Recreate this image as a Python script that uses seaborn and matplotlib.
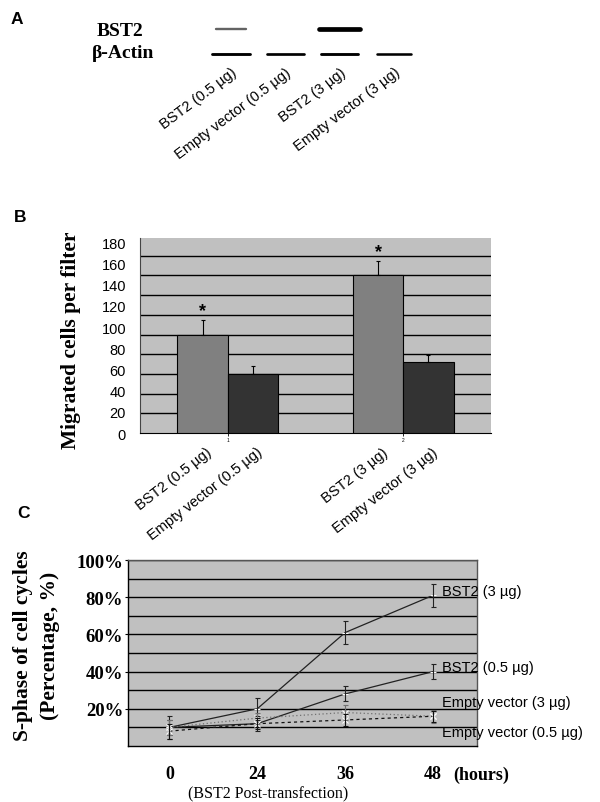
import numpy as np
import pandas as pd
import seaborn as sns
import matplotlib.pyplot as plt

plt.rcParams['font.family'] = ['Liberation Sans', 'DejaVu Sans']
SERIF = ['Liberation Serif', 'DejaVu Serif']

## Panel A: western blot lanes
lane_labels = ['BST2 (0.5 µg)', 'Empty vector (0.5 µg)', 'BST2 (3 µg)', 'Empty vector (3 µg)']
blot_rows = ['BST2', 'β-Actin']
bst2_band = [0.35, 0.0, 1.0, 0.0]     # relative intensity
actin_band = [0.8, 0.75, 0.8, 0.7]
band_width = [0.55, 0.0, 0.75, 0.0]
actin_width = [0.7, 0.68, 0.68, 0.62]

## Panel B: migration assay
groups = ['1', '2']
treatment = ['BST2', 'Empty vector', 'BST2', 'Empty vector']
group_of_bar = ['1', '1', '2', '2']
migrated = [100, 60, 160, 72]
migrated_err = [15, 8, 15, 7]
bar_labels = ['BST2 (0.5 µg)', 'Empty vector (0.5 µg)', 'BST2 (3 µg)', 'Empty vector (3 µg)']
count_ticks = [0, 20, 40, 60, 80, 100, 120, 140, 160, 180]

## Panel C: S-phase time course
hours = ['0', '24', '36', '48']
series_names = ['BST2 (3 µg)', 'BST2 (0.5 µg)', 'Empty vector (3 µg)', 'Empty vector (0.5 µg)']
s_phase = {
    'BST2 (3 µg)': [10, 20, 61, 81],
    'BST2 (0.5 µg)': [10, 12, 28, 40],
    'Empty vector (3 µg)': [10, 15, 18, 16],
    'Empty vector (0.5 µg)': [8, 12, 14, 16],
}
s_phase_err = {
    'BST2 (3 µg)': [6, 6, 6, 6],
    'BST2 (0.5 µg)': [4, 4, 4, 4],
    'Empty vector (3 µg)': [4, 3, 4, 3.5],
    'Empty vector (0.5 µg)': [4, 3, 3, 3],
}


W, H = 600, 803
def box(left, top, right, bottom):
    return [left / W, 1 - bottom / H, (right - left) / W, (bottom - top) / H]

fig = plt.figure(figsize=(6, 8.03), dpi=100)

# ---------------- Panel A ----------------
axa = fig.add_axes(box(204, 18, 421, 67))
axa.set_xlim(-0.5, 3.5)
axa.set_ylim(1.5, -0.5)
axa.axis('off')
for i in range(len(lane_labels)):
    if bst2_band[i] > 0:
        c = str(0.6 - 0.6 * bst2_band[i])
        axa.hlines(0, i - band_width[i] / 2, i + band_width[i] / 2,
                   color=c, lw=0.8 + 2.6 * bst2_band[i], capstyle='round')
    axa.hlines(1, i - actin_width[i] / 2, i + actin_width[i] / 2,
               color='black', lw=2.2 * actin_band[i] + 0.3, capstyle='round')
    axa.text(i, 1.45, lane_labels[i], rotation=37, rotation_mode='anchor',
             ha='right', va='top', fontsize=10.5, clip_on=False)
fig.text(120 / W, 1 - 31 / H, blot_rows[0], family=SERIF, fontweight='bold',
         fontsize=14, ha='center', va='center')
fig.text(123 / W, 1 - 53 / H, blot_rows[1], family=SERIF, fontweight='bold',
         fontsize=14, ha='center', va='center')

# ---------------- Panel B ----------------
dfb = pd.DataFrame({'group': group_of_bar, 'treatment': treatment,
                    'value': migrated})
axb = fig.add_axes(box(140, 239, 491, 434))
axb.set_facecolor('#c0c0c0')
sns.barplot(data=dfb, x='group', y='value', hue='treatment', order=groups,
            palette=['#808080', '#333333'], width=0.575, edgecolor='black',
            linewidth=0.8, errorbar=None, legend=False, ax=axb, zorder=3)
bars = sorted(axb.patches, key=lambda p: p.get_x())
xc = [p.get_x() + p.get_width() / 2 for p in bars]
axb.errorbar(xc, migrated, yerr=[np.zeros(4), migrated_err], fmt='none',
             ecolor='black', elinewidth=0.8, capsize=1.5, capthick=0.8, zorder=4)
for k in [0, 2]:
    axb.text(xc[k], migrated[k] + migrated_err[k] + 1, '*', ha='center',
             va='bottom', fontsize=13, fontweight='bold', zorder=5)
axb.set_xlim(-0.5, 1.5)
axb.set_ylim(0, 198)
axb.set_yticks(count_ticks[1:])
axb.set_yticklabels([])
axb.tick_params(axis='y', length=0)
axb.grid(axis='y', color='black', lw=1, zorder=1)
axb.set_axisbelow(True)
axb.set_xticks([0, 1])
axb.set_xticklabels(groups, fontsize=3.5)
axb.tick_params(axis='x', length=2, width=0.6, pad=1)
axb.set_xlabel('')
axb.set_ylabel('')
for s in ['top', 'right']:
    axb.spines[s].set_visible(False)
axb.spines['left'].set_color('#444444')
axb.spines['bottom'].set_color('black')
for k in range(4):
    axb.text(xc[k] + 0.02, -0.06, bar_labels[k], transform=axb.get_xaxis_transform(),
             rotation=38, rotation_mode='anchor', ha='right', va='top', fontsize=10.5)
# the printed tick labels are spaced a bit wider than the grid
axb2 = axb.twinx()
axb2.yaxis.tick_left()
axb2.set_ylim(0, 184)
axb2.set_yticks(count_ticks)
axb2.set_yticklabels([str(t) for t in count_ticks], fontsize=10.5)
axb2.tick_params(axis='y', length=0, pad=10)
for s in axb2.spines.values():
    s.set_visible(False)
fig.text(71 / W, 1 - 340 / H, 'Migrated cells per filter', family=SERIF,
         fontweight='bold', fontsize=15.5, rotation=90, ha='center', va='center')

# ---------------- Panel C ----------------
rows = []
for name in series_names:
    for i, h in enumerate(hours):
        rows.append({'pos': i, 'series': name, 'value': s_phase[name][i]})
dfc = pd.DataFrame(rows)
axc = fig.add_axes(box(128, 561, 477, 747))
axc.set_facecolor('#c0c0c0')
colors = {'BST2 (3 µg)': '#222222', 'BST2 (0.5 µg)': '#222222',
          'Empty vector (3 µg)': '#707070', 'Empty vector (0.5 µg)': '#111111'}
dashes = {'BST2 (3 µg)': '', 'BST2 (0.5 µg)': '',
          'Empty vector (3 µg)': (1, 2), 'Empty vector (0.5 µg)': (2.5, 2.5)}
markers = {'BST2 (3 µg)': '+', 'BST2 (0.5 µg)': '+',
           'Empty vector (3 µg)': 'x', 'Empty vector (0.5 µg)': 'x'}
sns.lineplot(data=dfc, x='pos', y='value', hue='series', style='series',
             palette=colors, dashes=dashes, markers=markers, markersize=4,
             linewidth=0.9, legend=False, ax=axc, zorder=3)
for name in series_names:
    axc.errorbar(range(len(hours)), s_phase[name], yerr=s_phase_err[name], fmt='none',
                 ecolor=colors[name], elinewidth=0.8, capsize=1.8, capthick=0.8, zorder=4)
label_shift = {'BST2 (3 µg)': 2.5, 'BST2 (0.5 µg)': 2.5,
               'Empty vector (3 µg)': 7.5, 'Empty vector (0.5 µg)': -8.5}
for name in series_names:
    axc.text(3.1, s_phase[name][-1] + label_shift[name], name, ha='left',
             va='center', fontsize=10.5, clip_on=False, zorder=6)
axc.set_xlim(-0.47, 3.5)
axc.set_ylim(0, 100)
axc.set_yticks([20, 40, 60, 80, 100])
axc.set_yticklabels(['20%', '40%', '60%', '80%', '100%'], family=SERIF,
                    fontweight='bold', fontsize=13.5)
axc.set_yticks([10, 30, 50, 70, 90], minor=True)
axc.tick_params(axis='y', which='major', length=2.5, width=0.8, pad=1)
axc.tick_params(axis='y', which='minor', length=0)
axc.grid(axis='y', which='both', color='black', lw=1, zorder=1)
axc.set_axisbelow(True)
axc.set_xticks(range(len(hours)))
axc.set_xticklabels(hours, family=SERIF, fontweight='bold', fontsize=13)
axc.tick_params(axis='x', length=0, pad=14)
axc.set_xlabel('')
axc.set_ylabel('')
for s in axc.spines.values():
    s.set_color('#555555')
    s.set_linewidth(1)
axc.spines['left'].set_color('black')
axc.spines['bottom'].set_color('black')
fig.text(481 / W, 1 - 775 / H, '(hours)', family=SERIF, fontweight='bold',
         fontsize=13, ha='center', va='center')
fig.text(268 / W, 1 - 794 / H, '(BST2 Post-transfection)', family=SERIF,
         fontsize=11.5, ha='center', va='center')
fig.text(23 / W, 1 - 646 / H, 'S-phase of cell cycles', family=SERIF,
         fontweight='bold', fontsize=15.5, rotation=90, ha='center', va='center')
fig.text(50 / W, 1 - 646 / H, '(Percentage, %)', family=SERIF,
         fontweight='bold', fontsize=15.5, rotation=90, ha='center', va='center')

# panel letters
for letter, (px, py) in zip(['A', 'B', 'C'], [(17, 19), (20, 218), (24, 514)]):
    fig.text(px / W, 1 - py / H, letter, fontweight='bold', fontsize=12.5,
             ha='center', va='center')

fig.savefig('out.png', dpi=100)
